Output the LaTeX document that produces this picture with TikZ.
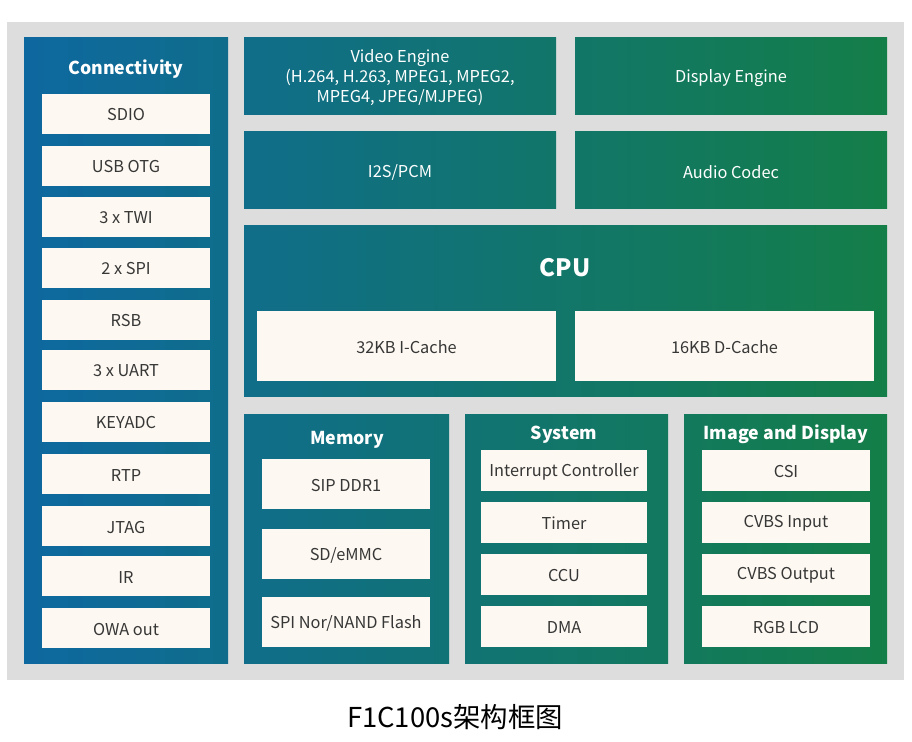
\documentclass[tikz,border=0pt]{standalone}
\usepackage{fontspec}
\setmainfont{Noto Sans CJK SC}
\newfontfamily\cjk{Noto Sans CJK SC}
\definecolor{sblue}{RGB}{14,104,160}
\definecolor{sgreen}{RGB}{20,126,72}
\definecolor{bggray}{RGB}{221,221,221}
\definecolor{cream}{RGB}{253,248,241}
\definecolor{boxtext}{RGB}{55,55,55}
\tikzset{
  panel/.style 2 args={left color=sgreen!#1!sblue, right color=sgreen!#2!sblue},
  wbox/.style={fill=cream},
  boxlabel/.style={text=boxtext, yshift=-0.02cm, font=\fontsize{9.3}{11}\selectfont},
  blocklabel/.style={text=white, align=center, yshift=-0.05cm, font=\fontsize{9.3}{11.4}\selectfont},
  paneltitle/.style={text=white, yshift=-0.05cm, font=\bfseries\fontsize{10.1}{12}\selectfont},
}
\begin{document}
\begin{tikzpicture}[x=0.02cm,y=-0.02cm]
\useasboundingbox (0,0) rectangle (912,741);
\fill[bggray] (7,22) rectangle (904,680);
% connectivity
\path[panel={0}{24}] (24,37) rectangle (228,663);
\node[paneltitle] (conn) at (126,67) {Connectivity};
\path[wbox] (42,94) rectangle node[boxlabel] (sdio) {SDIO} (210,134);
\path[wbox] (42,146) rectangle node[boxlabel] (usb) {USB OTG} (210,186);
\path[wbox] (42,197) rectangle node[boxlabel] (twi) {3 x TWI} (210,237);
\path[wbox] (42,248) rectangle node[boxlabel] (spi) {2 x SPI} (210,288);
\path[wbox] (42,300) rectangle node[boxlabel] (rsb) {RSB} (210,340);
\path[wbox] (42,350) rectangle node[boxlabel] (uart) {3 x UART} (210,390);
\path[wbox] (42,402) rectangle node[boxlabel] (keyadc) {KEYADC} (210,442);
\path[wbox] (42,454) rectangle node[boxlabel] (rtp) {RTP} (210,494);
\path[wbox] (42,506) rectangle node[boxlabel] (jtag) {JTAG} (210,546);
\path[wbox] (42,556) rectangle node[boxlabel] (ir) {IR} (210,596);
\path[wbox] (42,608) rectangle node[boxlabel] (owa) {OWA out} (210,648);
% engines and audio
\path[panel={25}{62}] (244,37) rectangle node[blocklabel] (video) {Video Engine\\(H.264, H.263, MPEG1, MPEG2,\\MPEG4, JPEG/MJPEG)} (556,114);
\path[panel={64}{100}] (575,37) rectangle node[blocklabel] (display) {Display Engine} (887,114);
\path[panel={25}{62}] (244,131) rectangle node[blocklabel] (i2s) {I2S/PCM} (556,208);
\path[panel={64}{100}] (575,131) rectangle node[blocklabel] (audio) {Audio Codec} (887,208);
% cpu
\path[panel={25}{100}] (244,225) rectangle (887,396);
\node[text=white, font=\bfseries\fontsize{13.6}{16}\selectfont] (cpu) at (565,268) {CPU};
\path[wbox] (257,311) rectangle node[boxlabel] (icache) {32KB I-Cache} (556,381);
\path[wbox] (575,311) rectangle node[boxlabel] (dcache) {16KB D-Cache} (874,381);
% memory
\path[panel={25}{49}] (244,414) rectangle (449,663);
\node[paneltitle] (mem) at (347,437) {Memory};
\path[wbox] (262,459) rectangle node[boxlabel] (ddr) {SIP DDR1} (430,509);
\path[wbox] (262,529) rectangle node[boxlabel] (emmc) {SD/eMMC} (430,579);
\path[wbox] (262,597) rectangle node[boxlabel] (flash) {SPI Nor/NAND Flash} (430,647);
% system
\path[panel={51}{75}] (465,414) rectangle (668,663);
\node[paneltitle] (sys) at (564,432) {System};
\path[wbox] (481,450) rectangle node[boxlabel] (intc) {Interrupt Controller} (647,491);
\path[wbox] (481,502) rectangle node[boxlabel] (timer) {Timer} (647,543);
\path[wbox] (481,554) rectangle node[boxlabel] (ccu) {CCU} (647,595);
\path[wbox] (481,606) rectangle node[boxlabel] (dma) {DMA} (647,647);
% image and display
\path[panel={77}{100}] (684,414) rectangle (887,663);
\node[paneltitle] (img) at (786,432) {Image and Display};
\path[wbox] (702,450) rectangle node[boxlabel] (csi) {CSI} (870,491);
\path[wbox] (702,502) rectangle node[boxlabel] (cvbsin) {CVBS Input} (870,543);
\path[wbox] (702,554) rectangle node[boxlabel] (cvbsout) {CVBS Output} (870,595);
\path[wbox] (702,606) rectangle node[boxlabel] (rgb) {RGB LCD} (870,647);
\node[font=\cjk\fontsize{15.6}{18}\selectfont] (caption) at (455,717) {F1C100s架构框图};
\end{tikzpicture}
\end{document}
